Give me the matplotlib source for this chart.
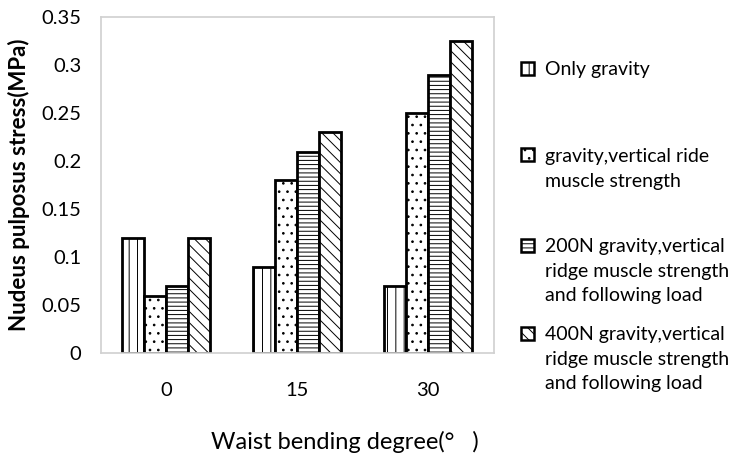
import numpy as np
from matplotlib import pyplot as plt
from matplotlib import patches as mpatches

CATEGORIES = ['0', '15', '30']
SERIES = [
    'Only gravity',
    'gravity,vertical ride\nmuscle strength',
    '200N gravity,vertical\nridge muscle strength\nand following load',
    '400N gravity,vertical\nridge muscle strength\nand following load',
]
VALUES = [
    [0.12, 0.09, 0.07],
    [0.06, 0.18, 0.25],
    [0.07, 0.21, 0.29],
    [0.12, 0.23, 0.325],
]
HATCHES = ['||', '..', '----', '\\\\\\']

plt.rcParams['font.family'] = ['Lato', 'DejaVu Sans']
plt.rcParams['hatch.linewidth'] = 0.7

fig = plt.figure(figsize=(7.4, 4.54), dpi=100)
ax = fig.add_axes([0.136, 0.222, 0.531, 0.74])

x = np.arange(len(CATEGORIES))
width = 0.168
for k in range(len(SERIES)):
    ax.bar(x + (k - 1.5) * width, VALUES[k], width=width, color='white',
           edgecolor='black', linewidth=2, hatch=HATCHES[k], zorder=2)

ax.set_xlim(-0.5, 2.5)
ax.set_ylim(0, 0.35)
ax.set_yticks([0, 0.05, 0.1, 0.15, 0.2, 0.25, 0.3, 0.35])
ax.set_yticklabels(['0', '0.05', '0.1', '0.15', '0.2', '0.25', '0.3', '0.35'],
                   fontsize=14.5)
ax.set_xticks(x)
ax.set_xticklabels(CATEGORIES, fontsize=14.5)
ax.tick_params(axis='y', length=0, pad=14)
ax.tick_params(axis='x', length=0, pad=21)
for s in ax.spines.values():
    s.set_color('#d0d0d0')
    s.set_linewidth(1.2)

ax.set_ylabel('Nudeus pulposus stress(MPa)', fontsize=16, fontweight='bold')
ax.yaxis.set_label_coords(-0.18, 0.5)
fig.text(0.466, 0.012, 'Waist bending degree(\u00b0   )', fontsize=17,
         ha='center')

# legend drawn by hand so the box sits on the first line of each label
legend_y = [68, 155, 245, 333]
for k in range(len(SERIES)):
    yy = 1 - legend_y[k] / 454
    fig.patches.append(mpatches.Rectangle(
        (521 / 740, yy - 6.5 / 454), 13 / 740, 13 / 454,
        transform=fig.transFigure, facecolor='white', edgecolor='black',
        linewidth=1.8, hatch=HATCHES[k]))
    fig.text(545 / 740, yy + 7 / 454, SERIES[k], fontsize=14, va='top',
             ha='left', linespacing=1.55)

plt.savefig('out.png', dpi=100)
